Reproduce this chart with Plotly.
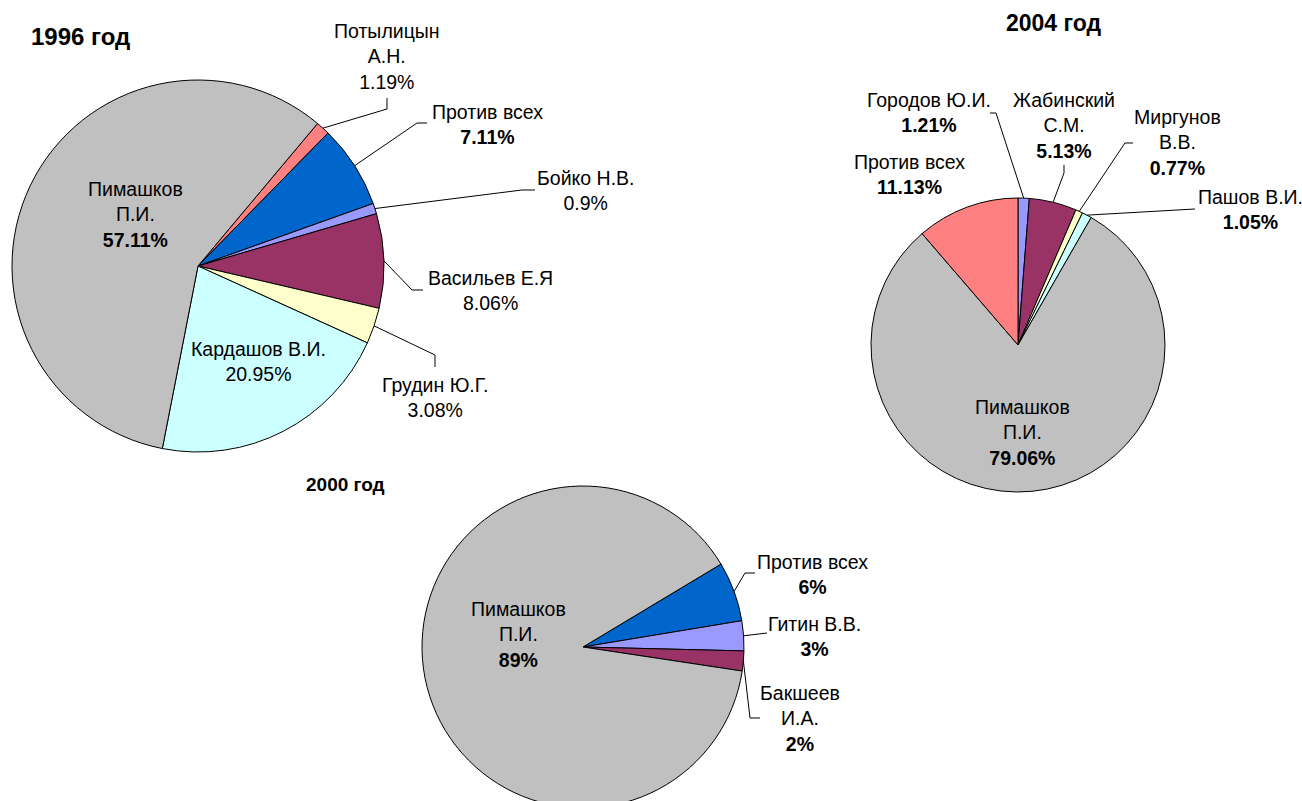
import math
import plotly.graph_objects as go

# ---------------- data ----------------
labels_1996 = ["Потылицын А.Н.", "Против всех", "Бойко Н.В.", "Васильев Е.Я",
               "Грудин Ю.Г.", "Кардашов В.И.", "Пимашков П.И."]
values_1996 = [1.19, 7.11, 0.9, 8.06, 3.08, 20.95, 57.11]
colors_1996 = ["#FF8080", "#0066CC", "#9999FF", "#993366", "#FFFFCC", "#CCFFFF", "#C0C0C0"]

labels_2004 = ["Городов Ю.И.", "Жабинский С.М.", "Миргунов В.В.", "Пашов В.И.",
               "Пимашков П.И.", "Против всех"]
values_2004 = [1.21, 5.13, 0.77, 1.05, 79.06, 11.13]
colors_2004 = ["#9999FF", "#993366", "#FFFFCC", "#CCFFFF", "#C0C0C0", "#FF8080"]

labels_2000 = ["Против всех", "Гитин В.В.", "Бакшеев И.А.", "Пимашков П.И."]
values_2000 = [6, 3, 2, 89]
colors_2000 = ["#0066CC", "#9999FF", "#993366", "#C0C0C0"]

titles = ["1996 год", "2004 год", "2000 год"]

# ---------------- layout constants ----------------
W, H = 1302, 812
FONT = "Liberation Sans, Arial, sans-serif"
FS = 19.5


def px(x):
    return x / W


def py(y):
    return 1 - y / H


# pie geometry: center (pixels), radius, rotation
pies = [
    dict(labels=labels_1996, values=values_1996, colors=colors_1996, cx=198, cy=266, r=186, rot=40),
    dict(labels=labels_2004, values=values_2004, colors=colors_2004, cx=1018, cy=345, r=147, rot=0),
    dict(labels=labels_2000, values=values_2000, colors=colors_2000, cx=583, cy=647, r=161, rot=59),
]

# label text layout: (pie index, label) -> (template, x, y)
label_text = {
    (0, "Потылицын А.Н."): ("Потылицын<br>А.Н.<br>{v}%", 387, 56),
    (0, "Против всех"): ("Против всех<br><b>{v}%</b>", 487, 125),
    (0, "Бойко Н.В."): ("Бойко Н.В.<br>{v}%", 585, 190),
    (0, "Васильев Е.Я"): ("Васильев Е.Я<br>{v}%", 490, 290),
    (0, "Грудин Ю.Г."): ("Грудин Ю.Г.<br>{v}%", 435, 397),
    (0, "Кардашов В.И."): ("Кардашов В.И.<br>{v}%", 258, 362),
    (0, "Пимашков П.И."): ("Пимашков<br>П.И.<br><b>{v}%</b>", 135, 215),
    (1, "Городов Ю.И."): ("Городов Ю.И.<br><b>{v}%</b>", 929, 113),
    (1, "Жабинский С.М."): ("Жабинский<br>С.М.<br><b>{v}%</b>", 1064, 126),
    (1, "Миргунов В.В."): ("Миргунов<br>В.В.<br><b>{v}%</b>", 1177, 143),
    (1, "Пашов В.И."): ("Пашов В.И.<br><b>{v}%</b>", 1250, 210),
    (1, "Пимашков П.И."): ("Пимашков<br>П.И.<br><b>{v}%</b>", 1022, 432),
    (1, "Против всех"): ("Против всех<br><b>{v}%</b>", 909, 175),
    (2, "Против всех"): ("Против всех<br><b>{v}%</b>", 812, 574),
    (2, "Гитин В.В."): ("Гитин В.В.<br><b>{v}%</b>", 814, 636),
    (2, "Бакшеев И.А."): ("Бакшеев<br>И.А.<br><b>{v}%</b>", 800, 718),
    (2, "Пимашков П.И."): ("Пимашков<br>П.И.<br><b>{v}%</b>", 518, 634),
}

# leader line bends (pixels) from slice edge to label
leaders = {
    (0, "Потылицын А.Н."): [(387, 109), (387, 98)],
    (0, "Против всех"): [(417, 123), (427, 123)],
    (0, "Бойко Н.В."): [(522, 190), (535, 190)],
    (0, "Васильев Е.Я"): [(412, 290), (423, 290)],
    (0, "Грудин Ю.Г."): [(435, 355), (435, 367)],
    (1, "Городов Ю.И."): [(996, 113), (990, 113)],
    (1, "Жабинский С.М."): [(1064, 173), (1064, 165)],
    (1, "Миргунов В.В."): [(1125, 143), (1133, 143)],
    (1, "Пашов В.И."): [(1195, 209)],
    (2, "Против всех"): [(745, 573), (755, 573)],
    (2, "Гитин В.В."): [(767, 633)],
    (2, "Бакшеев И.А."): [(750, 718), (760, 718)],
}

title_pos = [(80, 37, 24), (1054, 23, 23), (346, 484, 19)]


def fmt(v):
    return ("%.2f" % v).rstrip("0").rstrip(".")


fig = go.Figure()
annotations = []
shapes = []

for i, p in enumerate(pies):
    cx, cy, r = p["cx"], p["cy"], p["r"]
    fig.add_trace(go.Pie(
        labels=p["labels"], values=p["values"], sort=False, direction="clockwise",
        rotation=p["rot"], textinfo="none", hoverinfo="label+value",
        marker=dict(colors=p["colors"], line=dict(color="black", width=1)),
        domain=dict(x=[px(cx - r), px(cx + r)], y=[py(cy + r), py(cy - r)]),
        showlegend=False,
    ))
    total = sum(p["values"])
    cum = 0.0
    for lab, v in zip(p["labels"], p["values"]):
        mid = p["rot"] + (cum + v / 2) / total * 360.0
        cum += v
        key = (i, lab)
        if key in label_text:
            t, lx, ly = label_text[key]
            annotations.append(dict(
                x=px(lx), y=py(ly), xref="paper", yref="paper", text=t.format(v=fmt(v)),
                showarrow=False, xanchor="center", yanchor="middle", align="center",
                font=dict(family=FONT, size=FS, color="black"),
            ))
        if key in leaders:
            a = math.radians(mid)
            ex, ey = cx + r * math.sin(a), cy - r * math.cos(a)
            pts = [(ex, ey)] + leaders[key]
            path = "M " + " L ".join("%f,%f" % (px(x), py(y)) for x, y in pts)
            shapes.append(dict(type="path", path=path, xref="paper", yref="paper",
                               line=dict(color="black", width=1)))

for t, (tx, ty, ts) in zip(titles, title_pos):
    annotations.append(dict(
        x=px(tx), y=py(ty), xref="paper", yref="paper", text="<b>%s</b>" % t,
        showarrow=False, xanchor="center", yanchor="middle",
        font=dict(family=FONT, size=ts, color="black"),
    ))

fig.update_layout(
    width=W, height=H,
    margin=dict(l=0, r=0, t=0, b=0),
    paper_bgcolor="white", plot_bgcolor="white",
    annotations=annotations, shapes=shapes,
    font=dict(family=FONT, size=FS, color="black"),
)

fig.write_html(
    "out.html",
    config={"displayModeBar": False},
    post_script="document.body.style.margin='0';document.body.style.overflow='hidden';"
                "document.documentElement.style.overflow='hidden';",
)
